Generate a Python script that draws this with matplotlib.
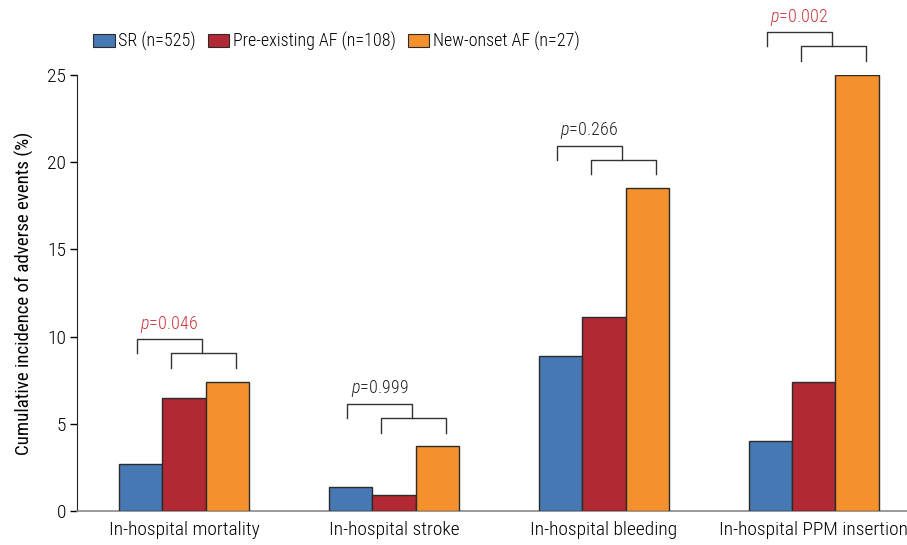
import matplotlib
matplotlib.use("Agg")
import matplotlib.pyplot as plt
from matplotlib.patches import Patch
import numpy as np

categories = ["In-hospital mortality", "In-hospital stroke", "In-hospital bleeding", "In-hospital PPM insertion"]
groups = ["SR (n=525)", "Pre-existing AF (n=108)", "New-onset AF (n=27)"]
sr = [2.7, 1.4, 8.9, 4.0]
pre_af = [6.5, 0.9, 11.1, 7.4]
new_af = [7.4, 3.7, 18.5, 25.0]
p_values = ["0.046", "0.999", "0.266", "0.002"]
p_significant = [True, False, False, True]

colors = ["#4679B3", "#B22833", "#F4902E"]
red_text = "#C9373F"

plt.rcParams["font.family"] = ["Roboto Condensed", "Roboto", "DejaVu Sans"]
plt.rcParams["font.stretch"] = "condensed"
plt.rcParams["font.weight"] = "light"
plt.rcParams["mathtext.fontset"] = "custom"
plt.rcParams["mathtext.it"] = "Roboto Condensed:italic:light"
plt.rcParams["mathtext.rm"] = "Roboto Condensed:light"

FS = 13

fig = plt.figure(figsize=(9.07, 5.45), dpi=100)
ax = fig.add_axes([77 / 907, 1 - 511 / 545, 830 / 907, 436 / 545])

x = np.arange(len(categories))
w = 0.205
series = [sr, pre_af, new_af]
for i, (vals, col) in enumerate(zip(series, colors)):
    ax.bar(x + (i - 1) * w, vals, width=w, color=col, edgecolor="#2b2b2b",
           linewidth=1.0, zorder=3)

ax.set_xlim(-0.5095, 3.443)
ax.set_ylim(0, 25)
ax.set_yticks([0, 5, 10, 15, 20, 25])
ax.set_xticks(x)
ax.set_xticklabels(categories, fontsize=14)
ax.tick_params(axis="x", length=0, pad=7)
ax.tick_params(axis="y", length=5, width=1, labelsize=14, direction="out", pad=3)
ax.spines["top"].set_visible(False)
ax.spines["right"].set_visible(False)
ax.spines["left"].set_color("#222222")
ax.spines["bottom"].set_color("#888888")
ax.spines["bottom"].set_linewidth(1.2)
ax.set_ylabel("Cumulative incidence of adverse events (%)", fontsize=13.6, labelpad=9)

# significance brackets above each group
for xi, top, pv, sig in zip(x, new_af, p_values, p_significant):
    base = top + 0.8
    lo_left, lo_right = xi - 0.06, xi + 0.25
    up_left, up_right = xi - 0.225, xi + 0.085
    lo_y = base + 0.85
    up_y = lo_y + 0.8
    kw = dict(color="#333333", lw=1.0, clip_on=False, zorder=4)
    ax.plot([lo_left, lo_left, lo_right, lo_right], [base, lo_y, lo_y, base], **kw)
    ax.plot([up_left, up_left, up_right, up_right], [lo_y, up_y, up_y, lo_y], **kw)
    ax.text((up_left + up_right) / 2, up_y + 0.25, r"$\it{p}$=" + pv,
            ha="center", va="bottom", fontsize=FS,
            color=red_text if sig else "#222222", clip_on=False)

handles = [Patch(facecolor=c, edgecolor="#2b2b2b", linewidth=0.8) for c in colors]
fig.legend(handles, groups, loc="upper left", bbox_to_anchor=(93 / 907, 1 - 32 / 545),
           ncol=3, frameon=False, fontsize=FS, handlelength=1.2, handleheight=0.75,
           handletextpad=0.2, columnspacing=0.65, borderaxespad=0, borderpad=0)

fig.savefig("out.png", dpi=100)
